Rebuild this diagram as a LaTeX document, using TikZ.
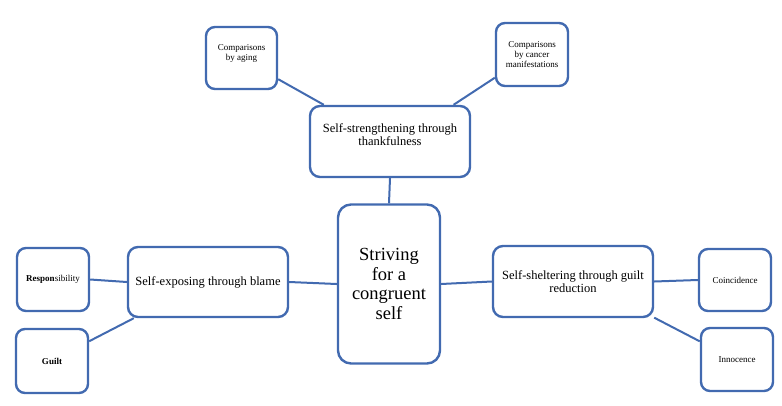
\documentclass[tikz,border=0pt]{standalone}
\usepackage{fontspec}
\setmainfont{Liberation Serif}
\definecolor{boxblue}{RGB}{66,106,176}
\tikzset{
  box/.style={draw=boxblue, line width=2.4pt, fill=white, align=center, inner sep=2pt},
  bigbox/.style={box, rounded corners=13pt, font=\fontsize{18.5}{19.5}\selectfont},
  midbox/.style={box, rounded corners=10pt, font=\fontsize{12.5}{13.5}\selectfont},
  smallbox/.style={box, rounded corners=9pt, font=\fontsize{9}{10}\selectfont},
  link/.style={draw=boxblue, line width=2pt}
}
\begin{document}
\begin{tikzpicture}[x=1pt,y=-1pt]
\useasboundingbox (0,0) rectangle (782,405);
% nodes
\node[bigbox, minimum width=102pt, minimum height=159pt] (core) at (389,284) {Striving\\for a\\congruent\\self};
\node[midbox, minimum width=160pt, minimum height=71pt] (strength) at (390,141.5) {Self-strengthening through\\thankfulness\\\mbox{}};
\node[midbox, minimum width=160pt, minimum height=70pt] (expose) at (208,282) {Self-exposing through blame};
\node[midbox, minimum width=160pt, minimum height=71pt] (shelter) at (573,281.5) {Self-sheltering through guilt\\reduction};
\node[smallbox, minimum width=71pt, minimum height=62pt] (aging) at (241.5,58) {Comparisons\\by aging\\\mbox{}};
\node[smallbox, minimum width=72pt, minimum height=63pt] (cancer) at (532,54.5) {Comparisons\\by cancer\\manifestations};
\node[smallbox, minimum width=72pt, minimum height=63pt] (resp) at (53,279.5) {\textbf{Respon}sibility};
\node[smallbox, minimum width=72pt, minimum height=64pt] (guilt) at (52,361) {\textbf{Guilt}};
\node[smallbox, minimum width=72pt, minimum height=62pt] (coinc) at (735,280) {Coincidence};
\node[smallbox, minimum width=72pt, minimum height=63pt] (innoc) at (737,359.5) {Innocence};
% connectors
\begin{scope}[on background layer/.style={}]
\end{scope}
\draw[link] (strength.south) -- (core.north);
\draw[link] (aging.-30) -- (strength.151);
\draw[link] (cancer.-148) -- (strength.30.6);
\draw[link] (expose.east) -- (core.west);
\draw[link] (resp.east) -- (expose.west);
\draw[link] (guilt.28) -- (expose.206);
\draw[link] (core.east) -- (shelter.west);
\draw[link] (shelter.east) -- (coinc.west);
\draw[link] (shelter.-24.7) -- (innoc.154);
\end{tikzpicture}
\end{document}
